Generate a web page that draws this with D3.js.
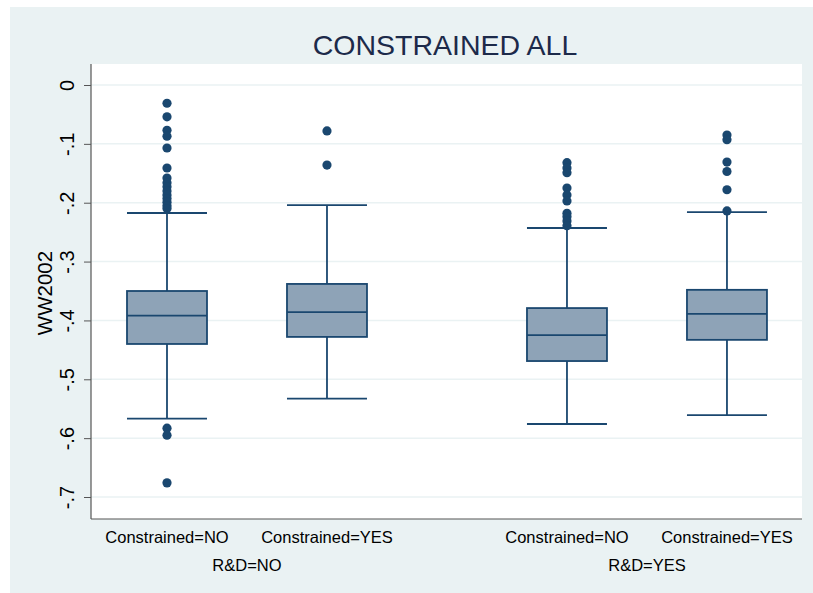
<!DOCTYPE html>
<html><head><meta charset="utf-8">
<script src="https://cdn.jsdelivr.net/npm/d3@7"></script>
<style>body{margin:0;background:#fff}svg{display:block}text{font-family:"Liberation Sans",Arial,sans-serif}</style>
</head><body>
<script>
const categories = ["Constrained=NO","Constrained=YES","Constrained=NO","Constrained=YES"];
const groups = ["R&D=NO","R&D=NO","R&D=YES","R&D=YES"];
const groupLabels = ["R&D=NO","R&D=YES"];
const positions = [0,1,2.5,3.5];
const q1 = [-0.440,-0.428,-0.469,-0.433];
const median = [-0.392,-0.386,-0.425,-0.389];
const q3 = [-0.350,-0.338,-0.379,-0.348];
const whiskerLow = [-0.567,-0.533,-0.576,-0.561];
const whiskerHigh = [-0.2175,-0.204,-0.243,-0.216];
const outliers = [
  [-0.031,-0.054,-0.077,-0.087,-0.107,-0.141,-0.158,-0.166,-0.173,-0.180,-0.187,-0.193,-0.199,-0.205,-0.210,-0.583,-0.595,-0.676],
  [-0.078,-0.136],
  [-0.132,-0.141,-0.149,-0.175,-0.187,-0.197,-0.218,-0.224,-0.231,-0.239],
  [-0.085,-0.093,-0.131,-0.147,-0.178,-0.214]
];
const yTicks = [0,-0.1,-0.2,-0.3,-0.4,-0.5,-0.6,-0.7];
const yTickLabels = ["0","-.1","-.2","-.3","-.4","-.5","-.6","-.7"];

const W=813,H=593;
const svg=d3.select("body").append("svg").attr("width",W).attr("height",H);
svg.append("rect").attr("x",0).attr("y",0).attr("width",W).attr("height",H).attr("fill","#fff");
svg.append("rect").attr("x",10).attr("y",7).attr("width",W-10).attr("height",H-7).attr("fill","#eaf2f3");
const L=91,R=802,T=64,B=519;
svg.append("rect").attr("x",L).attr("y",T).attr("width",R-L).attr("height",B-T).attr("fill","#fff");

const y=d3.scaleLinear().domain([-0.7,0]).range([497,85]);
const x=d3.scaleLinear().domain([-0.475,3.969]).range([L,R]);
const bw=x(0.5)-x(0);

// grid
svg.append("g").selectAll("line").data(yTicks).join("line")
  .attr("x1",L).attr("x2",R).attr("y1",d=>y(d)).attr("y2",d=>y(d))
  .attr("stroke","#eaf2f3").attr("stroke-width",1.5);

// y axis
const ax=d3.axisLeft(y).tickValues(yTicks).tickSize(7).tickFormat((d,i)=>yTickLabels[i]);
const ag=svg.append("g").attr("transform",`translate(${L},0)`).call(ax);
ag.select(".domain").remove();
ag.selectAll(".tick line").attr("stroke","#555").attr("stroke-width",1);
ag.selectAll(".tick text").attr("font-size",20).attr("fill","#000")
  .attr("transform",`translate(-24,0) rotate(-90)`).attr("x",0).attr("y",0).attr("dy","0.36em").attr("text-anchor","middle");
svg.append("line").attr("x1",L).attr("x2",L).attr("y1",T).attr("y2",B).attr("stroke","#555").attr("stroke-width",1.2);
svg.append("line").attr("x1",L).attr("x2",R).attr("y1",B).attr("y2",B).attr("stroke","#555").attr("stroke-width",1.2);

svg.append("text").attr("transform",`translate(45,293) rotate(-90)`).attr("text-anchor","middle")
  .attr("dy","0.36em").attr("font-size",20.5).attr("fill","#000").text("WW2002");

svg.append("text").attr("x",445).attr("y",55).attr("text-anchor","middle").attr("font-size",28.5).attr("fill","#1c2a4a").text("CONSTRAINED ALL");

const col="#1a476f";
const g=svg.append("g");
positions.forEach((p,i)=>{
  const cx=x(p);
  g.append("line").attr("x1",cx).attr("x2",cx).attr("y1",y(whiskerHigh[i])).attr("y2",y(q3[i])).attr("stroke",col).attr("stroke-width",1.8);
  g.append("line").attr("x1",cx).attr("x2",cx).attr("y1",y(q1[i])).attr("y2",y(whiskerLow[i])).attr("stroke",col).attr("stroke-width",1.8);
  [whiskerHigh[i],whiskerLow[i]].forEach(v=>g.append("line").attr("x1",cx-bw/2).attr("x2",cx+bw/2).attr("y1",y(v)).attr("y2",y(v)).attr("stroke",col).attr("stroke-width",1.8));
  g.append("rect").attr("x",cx-bw/2).attr("y",y(q3[i])).attr("width",bw).attr("height",y(q1[i])-y(q3[i]))
    .attr("fill","#8ea3b7").attr("stroke",col).attr("stroke-width",1.8);
  g.append("line").attr("x1",cx-bw/2).attr("x2",cx+bw/2).attr("y1",y(median[i])).attr("y2",y(median[i])).attr("stroke",col).attr("stroke-width",1.8);
  g.selectAll(null).data(outliers[i]).join("circle").attr("cx",cx).attr("cy",d=>y(d)).attr("r",4.6).attr("fill",col);
  svg.append("text").attr("x",cx).attr("y",543).attr("text-anchor","middle").attr("font-size",16.5).attr("fill","#000").text(categories[i]);
});
groupLabels.forEach(gl=>{
  const ps=positions.filter((p,i)=>groups[i]===gl);
  svg.append("text").attr("x",x(d3.mean(ps))).attr("y",571).attr("text-anchor","middle").attr("font-size",16.5).attr("fill","#000").text(gl);
});
</script>
</body></html>
